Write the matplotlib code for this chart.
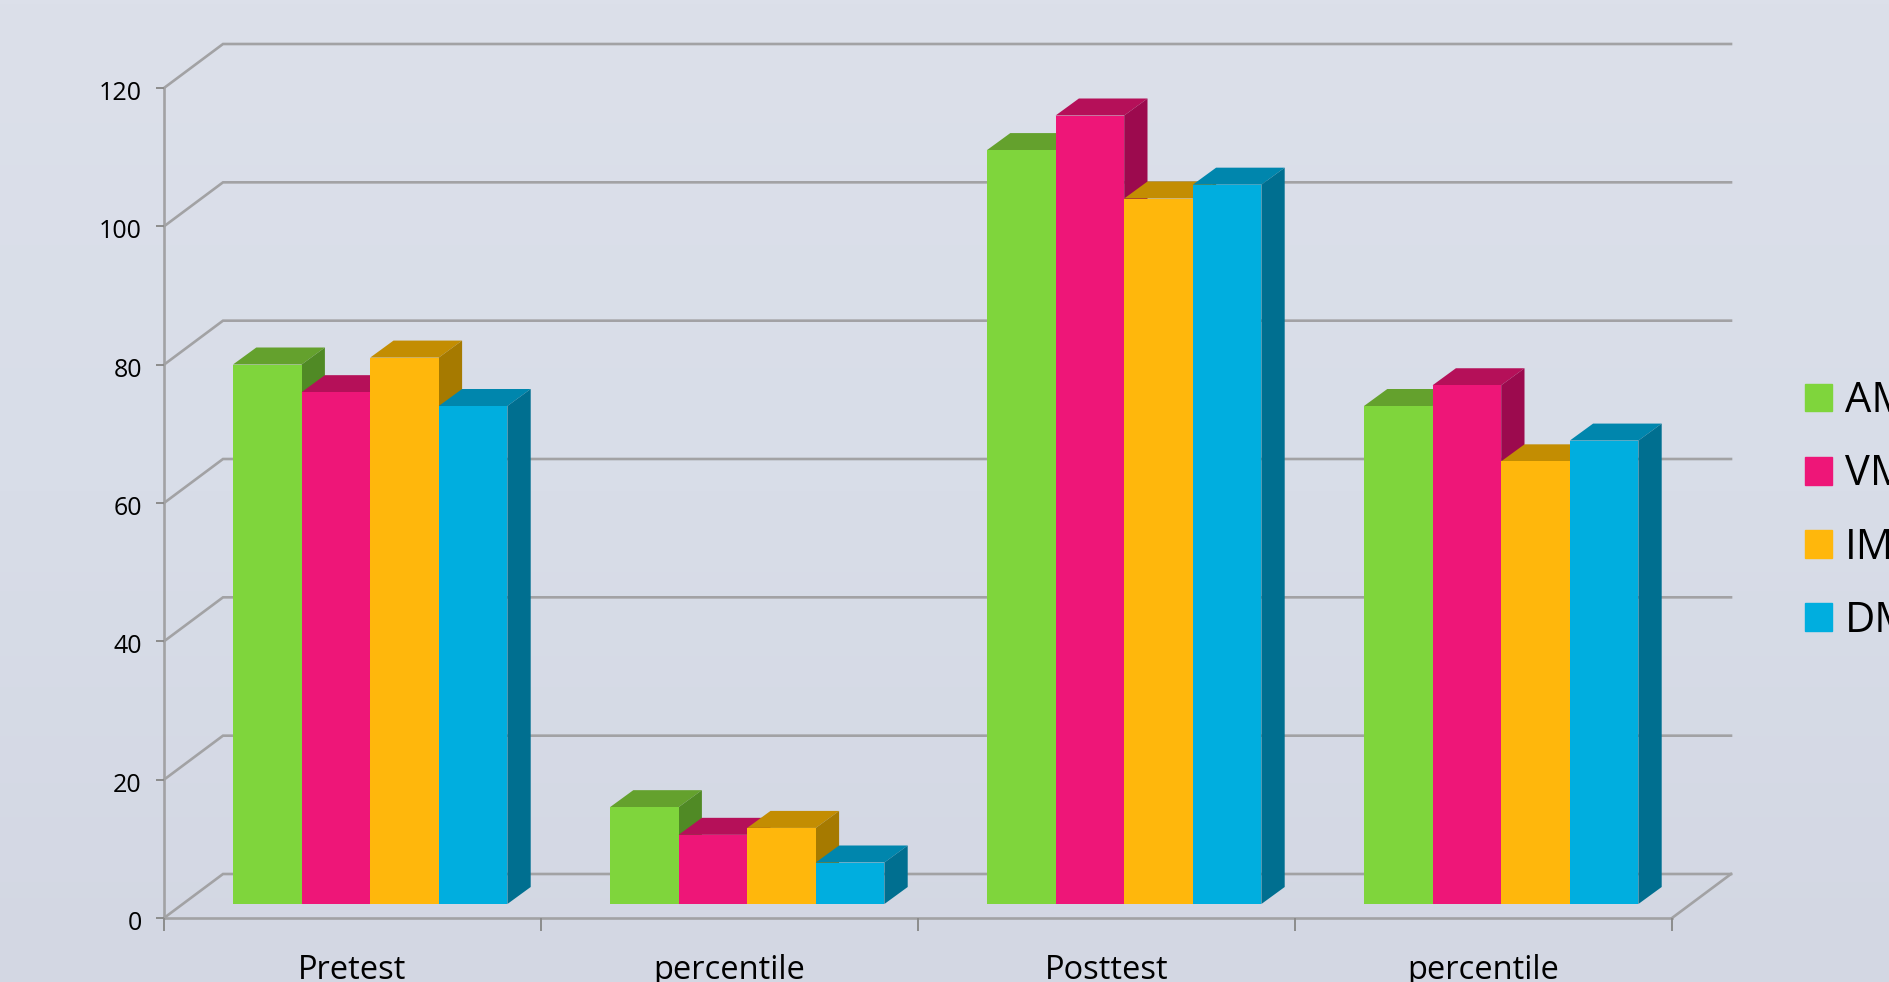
import numpy as np
import matplotlib
matplotlib.use("Agg")
import matplotlib.pyplot as plt
from matplotlib.patches import Patch
from matplotlib.transforms import ScaledTranslation

categories = ["Pretest", "percentile", "Posttest", "percentile"]
series_names = ["AM", "VM", "IM", "DM"]
am = [78, 14, 109, 72]
vm = [74, 10, 114, 75]
im = [79, 11, 102, 64]
dm = [72, 6, 104, 67]
series_values = [am, vm, im, dm]
yticks = [0, 20, 40, 60, 80, 100, 120]

front = ["#7fd53c", "#ee1678", "#ffb70c", "#00aedf"]
top = ["#64a12d", "#b51059", "#c38d02", "#0086ad"]
side = ["#508a25", "#9c0a4e", "#a67a00", "#006f90"]
GRID = "#a2a2a4"

W, H = 1890, 982
plt.rcParams["font.family"] = ["Open Sans", "DejaVu Sans"]
fig = plt.figure(figsize=(W / 100, H / 100), dpi=100)

bg = fig.add_axes([0, 0, 1, 1], zorder=0)
bg.imshow(np.linspace(0, 1, 256)[:, None], aspect="auto",
          cmap=matplotlib.colors.LinearSegmentedColormap.from_list("b", ["#dce0ea", "#d8dde8", "#d3d7e3"]))
bg.axis("off")

# plot rectangle in pixels
L, R, B, T = 164, 1672, 918, 88
ax = fig.add_axes([L / W, 1 - B / H, (R - L) / W, (B - T) / H], zorder=1)
ax.patch.set_alpha(0)
ax.set_xlim(0, len(categories))
ax.set_ylim(0, 120)
pxx = (R - L) / len(categories)
pxy = (B - T) / 120
ux = lambda p: p / pxx
uy = lambda p: p / pxy

# back wall / floor
wall_dx, wall_dy = ux(59), uy(44)
for v in yticks:
    ax.plot([0, wall_dx, len(categories) + wall_dx], [v, v + wall_dy, v + wall_dy],
            color=GRID, lw=1.9, clip_on=False, zorder=1, solid_joinstyle="miter")
ax.plot([len(categories), len(categories) + wall_dx], [0, wall_dy], color=GRID, lw=1.9, clip_on=False, zorder=1)

# 3-D bars
bw = ux(68.6)
lift = uy(14)
start = ux(69)
dep_x, dep_y = ux(23.3), uy(17)
z = 2
for c in range(len(categories)):
    for s, vals in enumerate(series_values):
        x0 = c + start + s * bw
        x1 = x0 + bw
        y0, y1 = lift, lift + vals[c]
        ax.fill([x0, x1, x1 + dep_x, x0 + dep_x], [y1, y1, y1 + dep_y, y1 + dep_y],
                color=top[s], lw=0, clip_on=False, zorder=z)
        ax.fill([x1, x1 + dep_x, x1 + dep_x, x1], [y0, y0 + dep_y, y1 + dep_y, y1],
                color=side[s], lw=0, clip_on=False, zorder=z)
        ax.bar(x0, vals[c], bw, bottom=lift, align="edge", color=front[s], lw=0, clip_on=False, zorder=z)
        z += 1

for sp in ("top", "right"):
    ax.spines[sp].set_visible(False)
for sp in ("left", "bottom"):
    ax.spines[sp].set_color(GRID)
    ax.spines[sp].set_linewidth(1.9)
    ax.spines[sp].set_zorder(1)
ax.set_yticks(yticks)
ax.set_xticks(range(len(categories) + 1))
ax.set_xticklabels([])
ax.set_xticks(np.arange(len(categories)) + 0.5, minor=True)
ax.set_xticklabels(categories, minor=True, fontsize=23.5)
ax.tick_params(axis="x", which="major", length=9, width=1.4, color="#8c8c8c")
ax.tick_params(axis="x", which="minor", length=0, pad=26)
ax.tick_params(axis="y", length=6, width=1.4, color="#8c8c8c", labelsize=18, pad=10)
shift = ScaledTranslation(0, -2.5 / 100, fig.dpi_scale_trans)
for lab in ax.get_yticklabels():
    lab.set_transform(lab.get_transform() + shift)

handles = [Patch(color=f, label=n) for f, n in zip(front, series_names)]
leg = fig.legend(handles=handles, loc="center left", bbox_to_anchor=(1805 / W, 1 - 511 / H),
                 frameon=False, fontsize=30, handlelength=0.65, handleheight=0.65,
                 handletextpad=0.3, labelspacing=0.75, borderpad=0, borderaxespad=0)

fig.savefig("out.png", dpi=100)
